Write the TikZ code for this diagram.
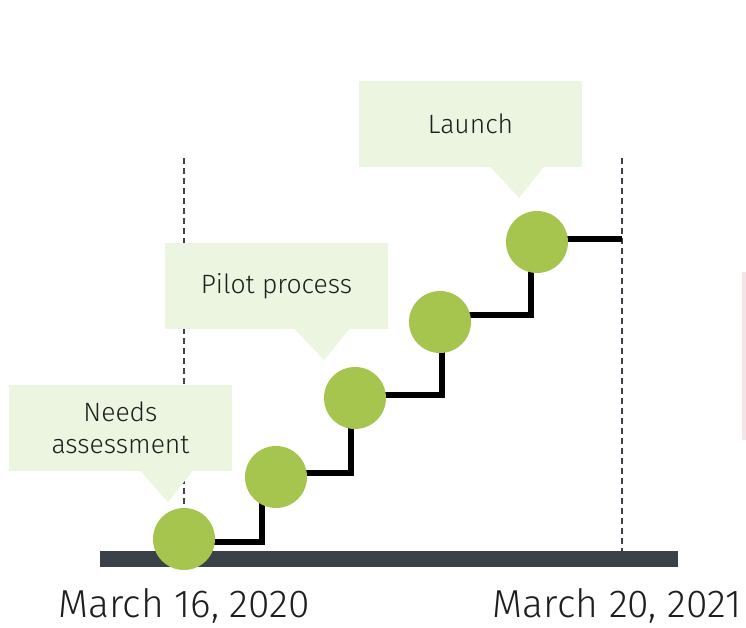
\documentclass[tikz,border=0pt]{standalone}
\usepackage{fontspec}
\setmainfont{Fira Sans}[UprightFont={* Light}]
\newfontfamily\datefont{Fira Sans}[UprightFont={* Light}]
\usetikzlibrary{calc}
\definecolor{dotgreen}{HTML}{A5C54F}
\definecolor{callfill}{HTML}{EBF5DF}
\definecolor{barcol}{HTML}{3A4149}
\definecolor{txtcol}{HTML}{1E1E1E}
\definecolor{pinkstrip}{HTML}{F3E6E8}
\pgfdeclarelayer{background}
\pgfdeclarelayer{back2}
\pgfsetlayers{back2,background,main}
\tikzset{
  dot/.style={circle, fill=dotgreen, minimum size=62pt, inner sep=0pt},
  callbox/.style={fill=callfill, inner sep=0pt, text=txtcol, align=center, font=\fontsize{26.5}{32}\selectfont},
  stepline/.style={line width=5.5pt, black, line join=miter},
  guide/.style={barcol, line width=1.6pt, dash pattern=on 6pt off 4pt},
  datelabel/.style={text=txtcol, font=\datefont\fontsize{39}{45}\selectfont, inner sep=0pt}
}
\begin{document}
\begin{tikzpicture}[x=1pt,y=-1pt]
\useasboundingbox (0,0) rectangle (746,628);
% guides
\coordinate (g1t) at (184,158);
\coordinate (g1b) at (184,551);
\coordinate (g2t) at (622,158);
\coordinate (g2b) at (622,551);
\begin{pgfonlayer}{back2}
\draw[guide] (g1t) -- (g1b);
\draw[guide] (g2t) -- (g2b);
\end{pgfonlayer}
% bar
\fill[barcol] (100,551) rectangle (678,567);
% faint strip at right edge
\fill[pinkstrip] (742,272) rectangle (746,440);
% callouts
\node[callbox, minimum width=223pt, minimum height=86pt] (na) at (120.5,428) {Needs\\assessment};
\fill[callfill] (140,470.5) -- (168,502) -- (193,470.5) -- cycle;
\node[callbox, minimum width=223pt, minimum height=86pt] (pp) at (276.5,286) {Pilot process};
\fill[callfill] (294,328.5) -- (324,360) -- (350,328.5) -- cycle;
\node[callbox, minimum width=223pt, minimum height=86pt] (la) at (470.5,124) {Launch};
\fill[callfill] (490,166.5) -- (519,198) -- (544,166.5) -- cycle;
% milestones
\node[dot] (c1) at (184,539) {};
\node[dot] (c2) at (276,477) {};
\node[dot] (c3) at (355,398) {};
\node[dot] (c4) at (440,322) {};
\node[dot] (c5) at (537,242) {};
\coordinate (end) at (622,239);
\begin{pgfonlayer}{background}
\draw[stepline] ([yshift=-3pt]c1.center) -| ([xshift=-14pt]c2.center);
\draw[stepline] ([yshift=4pt]c2.center) -| ([xshift=-4pt]c3.center);
\draw[stepline] ([yshift=3pt]c3.center) -| ([xshift=2pt]c4.center);
\draw[stepline] ([yshift=7pt]c4.center) -| ([xshift=-6pt]c5.center);
\draw[stepline] ([yshift=3pt]c5.center) -- (end);
\end{pgfonlayer}
% dates
\node[datelabel] (d1) at (184,606) {March 16, 2020};
\node[datelabel] (d2) at (617,606) {March 20, 2021};
\end{tikzpicture}
\end{document}
